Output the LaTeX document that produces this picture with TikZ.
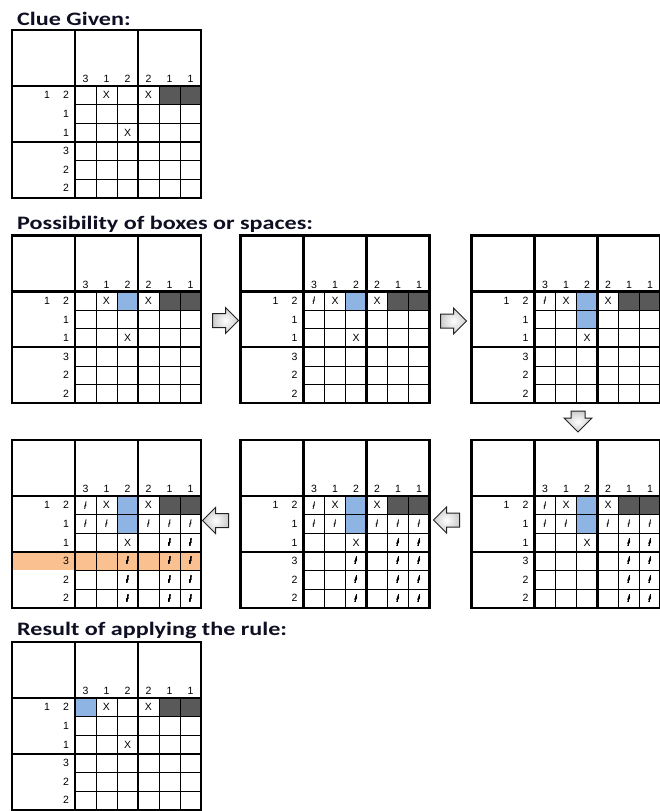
\documentclass[tikz,border=0pt]{standalone}
\usepackage{fontspec}
\setmainfont{Liberation Sans}
\newfontfamily\headfont[FakeStretch=1.27]{Carlito}
\usepackage{tikz}
\usetikzlibrary{shapes.arrows}
\definecolor{ink}{RGB}{15,15,35}
\definecolor{filled}{RGB}{89,89,89}
\definecolor{guess}{RGB}{141,180,226}
\definecolor{probe}{RGB}{250,192,144}
\definecolor{rim}{RGB}{35,35,35}
\newcommand{\maybe}{\textit{ł}}
% a cell (row, column) of the current board
\newcommand{\sq}[3]{\fill[#3] ({42+21*#2},{37.4+18.6*#1}) rectangle +(21,18.6);}
\newcommand{\mk}[3]{\node[cellmark] (\gname-r#1c#2) at ({52.5+21*#2},{46.7+18.6*#1}) {#3};}
% one board: name, left, top, extra cells
\newcommand{\board}[4]{%
\begin{scope}[shift={(#2,#3)}]
\def\gname{#1}
#4
\sq{1}{5}{filled}\sq{1}{6}{filled}
\foreach \i in {1,...,5}{
  \draw[cellrule] ({63+21*\i},56) -- ({63+21*\i},167.6);
  \draw[cellrule] (63,{56+18.6*\i}) -- (189,{56+18.6*\i});
}
\draw[blockrule] (0,0) rectangle (189,167.6);
\draw[blockrule] (63,0) -- (63,167.6) (126,0) -- (126,167.6);
\draw[blockrule] (0,56) -- (189,56) (0,111.8) -- (189,111.8);
\foreach \n [count=\c] in {3,1,2,2,1,1}
  \node[clue] (#1-col\c) at ({52.5+21*\c},49) {\n};
\node[clue] (#1-row0) at (35,65.3) {1};
\foreach \n [count=\r] in {2,1,1,3,2,2}
  \node[clue] (#1-row\r) at (54,{46.7+18.6*\r}) {\n};
\mk{1}{2}{X}\mk{1}{4}{X}\mk{3}{3}{X}
\end{scope}}
\newcommand{\sweep}{%
\foreach \c in {1,2,4,5,6} \mk{2}{\c}{\maybe}
\foreach \r in {3,...,6}{\mk{\r}{5}{\maybe}\mk{\r}{6}{\maybe}}}

\begin{document}
\begin{tikzpicture}[x=1pt,y=-1pt,font=\fontsize{10.5}{12}\selectfont,
  cellrule/.style={line width=0.8pt},
  blockrule/.style={line width=2.2pt},
  clue/.style={inner sep=0pt},
  cellmark/.style={inner sep=0pt},
  heading/.style={anchor=base west,inner sep=0pt,text=ink,font=\headfont\bfseries\fontsize{19}{22}\selectfont},
  blockarrow/.style={single arrow,draw=rim,line width=1pt,inner color=white,outer color=gray!40,
    single arrow head extend=6pt,single arrow tip angle=90,inner xsep=0pt,inner ysep=6.5pt,minimum height=26pt}]
\useasboundingbox (0,0) rectangle (659,811);
\fill[white] (0,0) rectangle (659,811);

\node[heading] (t1) at (17,25) {Clue Given:};
\board{g0}{12}{30}{}

\node[heading] (t2) at (17,229) {Possibility of boxes or spaces:};
\board{g1}{12}{235.5}{\sq{1}{3}{guess}}
\board{g2}{240.5}{235.5}{\sq{1}{3}{guess}\mk{1}{1}{\maybe}}
\board{g3}{471.5}{235.5}{\sq{1}{3}{guess}\sq{2}{3}{guess}\mk{1}{1}{\maybe}}
\board{g6}{471.5}{440}{\sq{1}{3}{guess}\sq{2}{3}{guess}\mk{1}{1}{\maybe}\sweep}
\board{g5}{240.5}{440}{\sq{1}{3}{guess}\sq{2}{3}{guess}\mk{1}{1}{\maybe}\sweep
  \foreach \r in {4,5,6} \mk{\r}{3}{\maybe}}
\board{g4}{12}{440}{\fill[probe] (0,111.8) rectangle (189,130.4);
  \sq{1}{3}{guess}\sq{2}{3}{guess}\mk{1}{1}{\maybe}\sweep
  \foreach \r in {4,5,6} \mk{\r}{3}{\maybe}}

% steps
\node[blockarrow] (s12) at (222,320.5) {};
\node[blockarrow] (s23) at (450,321) {};
\node[blockarrow,shape border rotate=270,inner xsep=6.5pt,inner ysep=0pt,
  single arrow head extend=7pt,minimum height=21pt] (s36) at (578,418) {};
\node[blockarrow,shape border rotate=180] (s65) at (450,520) {};
\node[blockarrow,shape border rotate=180] (s54) at (219,520.5) {};

\node[heading] (t3) at (17,635) {Result of applying the rule:};
\board{g7}{12}{642}{\sq{1}{1}{guess}}
\end{tikzpicture}
\end{document}
